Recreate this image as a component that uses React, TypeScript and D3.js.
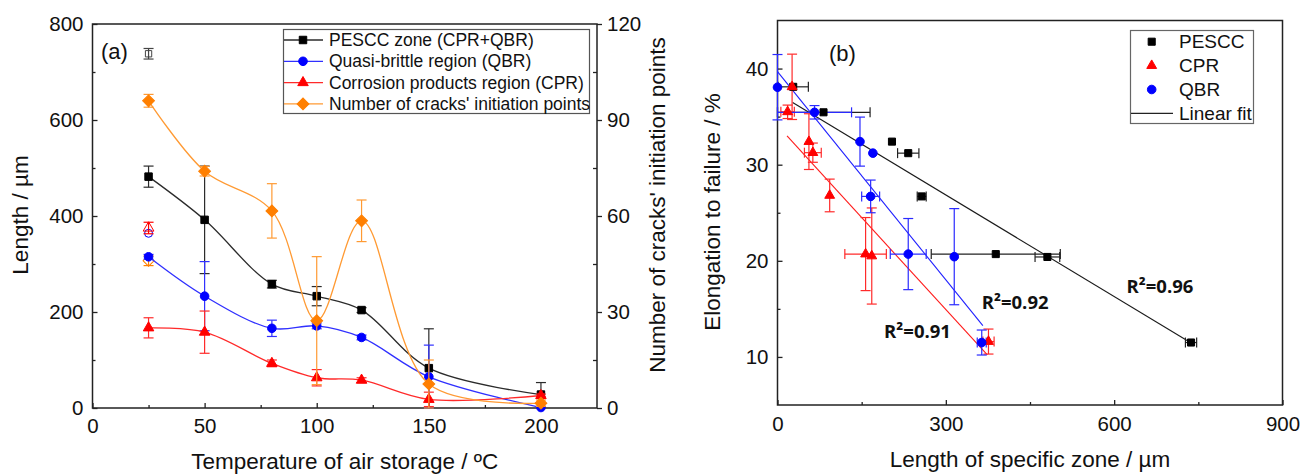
import React, { useEffect, useRef } from 'react';
import * as d3 from 'd3';

// ---- panel (a): lengths and crack initiation points vs storage temperature
const temps = [25, 50, 80, 100, 120, 150, 200];
const pesccLen = [482, 392, 258, 233, 204, 83, 28];
const pesccErr = [22, 112, 8, 20, 5, 82, 25];
const qbrLen = [315, 233, 166, 171, 147, 65, 1];
const qbrErr = [5, 72, 17, 6, 5, 66, 0];
const cprLen = [167, 158, 93, 63, 58, 18, 26];
const cprErr = [21, 44, 7, 17, 5, 15, 3];
const cracks = [96, 74, 61.6, 27.3, 58.5, 7.5, 1.5];
const cracksErr = [2, 1.5, 8.5, 20, 6.5, 7.5, 1];

// open symbols at 25 °C: PESCC, QBR, CPR lengths and crack count
const refTemp = 25;
const refLen = [738, 364, 375];
const refLenErr = [11, 0, 12];
const refCracks = 46;
const refCracksErr = 1.5;

const legendA = ['PESCC zone (CPR+QBR)', 'Quasi-brittle region (QBR)', 'Corrosion products region (CPR)', "Number of cracks' initiation points"];

// ---- panel (b): elongation to failure vs zone length
const pesccX = [28, 82, 204, 233, 257, 389, 481, 737];
const pesccY = [38.1, 35.45, 32.4, 31.2, 26.7, 20.7, 20.4, 11.5];
const pesccXErr = [27, 83, 0, 19, 8, 115, 22, 10];
const cprX = [18, 26, 56, 63, 93, 157, 168, 376];
const cprY = [35.5, 38.1, 32.4, 31.25, 26.8, 20.7, 20.5, 11.6];
const cprXErr = [12, 0, 0, 15, 0, 37, 0, 10];
const cprYErr = [0.7, 3.4, 2.9, 1.0, 1.7, 3.8, 5, 1.3];
const qbrX = [0, 66, 147, 170, 166, 233, 315, 364];
const qbrY = [38.06, 35.45, 32.4, 31.2, 26.7, 20.7, 20.43, 11.5];
const qbrXErr = [0, 66, 0, 0, 16, 32, 0, 8];
const qbrYErr = [3.4, 0.7, 2.55, 0, 1.7, 3.7, 5, 1.3];

// linear fits: PESCC, QBR, CPR
const fitSlope = [-0.03525, -0.0722, -0.0638];
const fitIntercept = [37.43, 39.68, 34.07];
const fitFrom = [27, 0, 17];
const fitTo = [738, 366, 374];
const r2Text = ['R²=0.96', 'R²=0.92', 'R²=0.91'];
const r2X = [622, 364, 190];
const r2Y = [16.7, 15.0, 12.0];

const legendB = ['PESCC', 'CPR', 'QBR', 'Linear fit'];

const FONT = "'Liberation Sans', Arial, Helvetica, sans-serif";
const BLACK = '#000000';
const BLUE = '#0000ff';
const RED = '#ff0000';
const ORANGE = '#ff7f00';

const styleAxis = (g: any) => {
  g.select('.domain').remove();
  g.selectAll('text').style('font-family', FONT).style('font-size', '20.5px').attr('fill', '#111');
  g.selectAll('line').attr('stroke', '#222').attr('stroke-width', 1.3);
};

const sym = (g: any, type: any, size: number, x: number, y: number, fill: string, stroke: string, rot = 0) =>
  g.append('path')
    .attr('d', d3.symbol(type, size)())
    .attr('transform', `translate(${x},${y}) rotate(${rot})`)
    .attr('fill', fill)
    .attr('stroke', stroke)
    .attr('stroke-width', 1);

const vErr = (g: any, x: number, y0: number, y1: number, color: string) => {
  g.append('line').attr('x1', x).attr('x2', x).attr('y1', y0).attr('y2', y1).attr('stroke', color).attr('stroke-width', 1.2);
  [y0, y1].forEach(y => g.append('line').attr('x1', x - 5).attr('x2', x + 5).attr('y1', y).attr('y2', y).attr('stroke', color).attr('stroke-width', 1.2));
};

const hErr = (g: any, y: number, x0: number, x1: number, color: string) => {
  g.append('line').attr('x1', x0).attr('x2', x1).attr('y1', y).attr('y2', y).attr('stroke', color).attr('stroke-width', 1.2);
  [x0, x1].forEach(x => g.append('line').attr('x1', x).attr('x2', x).attr('y1', y - 5).attr('y2', y + 5).attr('stroke', color).attr('stroke-width', 1.2));
};

const drawPanelA = (svg: any) => {
  const L = 92.5, R = 597, T = 24, B = 408;
  const x = d3.scaleLinear().domain([0, 225]).range([L, R]);
  const y = d3.scaleLinear().domain([0, 800]).range([B, T]);
  const yr = d3.scaleLinear().domain([0, 120]).range([B, T]);
  const g = svg.append('g');

  styleAxis(g.append('g').attr('transform', `translate(0,${B})`)
    .call(d3.axisBottom(x).tickValues([0, 50, 100, 150, 200]).tickSize(-5).tickPadding(10)));
  styleAxis(g.append('g').attr('transform', `translate(0,${B})`)
    .call(d3.axisBottom(x).tickValues([25, 75, 125, 175]).tickSize(-3).tickFormat(() => '')));
  styleAxis(g.append('g').attr('transform', `translate(${L},0)`)
    .call(d3.axisLeft(y).tickValues([0, 200, 400, 600, 800]).tickSize(-5).tickPadding(9)));
  styleAxis(g.append('g').attr('transform', `translate(${L},0)`)
    .call(d3.axisLeft(y).tickValues([100, 300, 500, 700]).tickSize(-3).tickFormat(() => '')));
  styleAxis(g.append('g').attr('transform', `translate(${R},0)`)
    .call(d3.axisRight(yr).tickValues([0, 30, 60, 90, 120]).tickSize(5).tickPadding(5)));
  styleAxis(g.append('g').attr('transform', `translate(${R},0)`)
    .call(d3.axisRight(yr).tickValues([15, 45, 75, 105]).tickSize(-4).tickFormat(() => '')));

  g.append('rect').attr('x', L).attr('y', T).attr('width', R - L).attr('height', B - T)
    .attr('fill', 'none').attr('stroke', '#222').attr('stroke-width', 1.5);

  const series = [
    { vals: pesccLen, errs: pesccErr, sc: y, type: d3.symbolSquare, size: 56, color: BLACK, line: '#2b2b2b', rot: 0 },
    { vals: qbrLen, errs: qbrErr, sc: y, type: d3.symbolCircle, size: 58, color: BLUE, line: '#3030ff', rot: 0 },
    { vals: cprLen, errs: cprErr, sc: y, type: d3.symbolTriangle, size: 48, color: RED, line: '#ff2a2a', rot: 0 },
    { vals: cracks, errs: cracksErr, sc: yr, type: d3.symbolSquare, size: 70, color: ORANGE, line: '#ff9a33', rot: 45 },
  ];

  // open reference symbols at 25 °C
  const refColors = ['#444', BLUE, RED];
  const refTypes = [d3.symbolSquare, d3.symbolCircle, d3.symbolTriangle];
  refLen.forEach((v, i) => {
    if (refLenErr[i] > 0) vErr(g, x(refTemp), y(v - refLenErr[i]), y(v + refLenErr[i]), refColors[i]);
    sym(g, refTypes[i], i === 0 ? 40 : 50, x(refTemp), y(v), 'none', refColors[i]);
  });
  vErr(g, x(refTemp), yr(refCracks - refCracksErr), yr(refCracks + refCracksErr), ORANGE);
  sym(g, d3.symbolSquare, 60, x(refTemp), yr(refCracks), 'none', ORANGE, 45);

  const line = d3.line<number>().curve(d3.curveCatmullRom.alpha(0.5));
  series.forEach(s => {
    const pts = temps.map((t, i) => [x(t), s.sc(s.vals[i])] as [number, number]);
    g.append('path').attr('d', line.x(d => d[0]).y(d => d[1])(pts as any)).attr('fill', 'none')
      .attr('stroke', s.line).attr('stroke-width', 1.3);
    temps.forEach((t, i) => {
      if (s.errs[i] > 0.5) vErr(g, x(t), s.sc(Math.max(0, s.vals[i] - s.errs[i])), s.sc(s.vals[i] + s.errs[i]), s.line);
    });
    temps.forEach((t, i) => sym(g, s.type, s.size, x(t), s.sc(s.vals[i]), s.color, s.color, s.rot));
  });

  // legend
  const lg = g.append('g');
  lg.append('rect').attr('x', 283.5).attr('y', 29.5).attr('width', 306).attr('height', 84)
    .attr('fill', '#fff').attr('stroke', '#555').attr('stroke-width', 1.2);
  legendA.forEach((name, i) => {
    const s = series[i];
    const ly = 40 + i * 21.3;
    lg.append('line').attr('x1', 284).attr('x2', 323).attr('y1', ly).attr('y2', ly).attr('stroke', s.line).attr('stroke-width', 1.3);
    sym(lg, s.type, s.size, 303, ly, s.color, s.color, s.rot);
    lg.append('text').attr('x', 329).attr('y', ly).attr('dy', '0.35em').text(name)
      .style('font-family', FONT).style('font-size', '17.5px').attr('fill', '#111');
  });

  g.append('text').attr('x', 101).attr('y', 59).text('(a)')
    .style('font-family', FONT).style('font-size', '22px').attr('fill', '#111');

  g.append('text').attr('x', (L + R) / 2).attr('y', 469).attr('text-anchor', 'middle')
    .text('Temperature of air storage / ºC').style('font-family', FONT).style('font-size', '22.5px').attr('fill', '#111');
  g.append('text').attr('transform', `translate(27.5,215) rotate(-90)`).attr('text-anchor', 'middle')
    .text('Length / µm').style('font-family', FONT).style('font-size', '22.5px').attr('fill', '#111');
  g.append('text').attr('transform', `translate(665,205) rotate(-90)`).attr('text-anchor', 'middle')
    .text("Number of cracks' initiation points").style('font-family', FONT).style('font-size', '22.5px').attr('fill', '#111');
};

const drawPanelB = (svg: any) => {
  const L = 777.5, R = 1282.5, T = 20.5, B = 405;
  const x = d3.scaleLinear().domain([0, 900]).range([L, R]);
  const y = d3.scaleLinear().domain([5, 45]).range([B, T]);
  const g = svg.append('g');

  styleAxis(g.append('g').attr('transform', `translate(0,${B})`)
    .call(d3.axisBottom(x).tickValues([0, 300, 600, 900]).tickSize(-5).tickPadding(11)));
  styleAxis(g.append('g').attr('transform', `translate(0,${B})`)
    .call(d3.axisBottom(x).tickValues([150, 450, 750]).tickSize(-3).tickFormat(() => '')));
  styleAxis(g.append('g').attr('transform', `translate(${L},0)`)
    .call(d3.axisLeft(y).tickValues([10, 20, 30, 40]).tickSize(-5).tickPadding(9)));
  styleAxis(g.append('g').attr('transform', `translate(${L},0)`)
    .call(d3.axisLeft(y).tickValues([15, 25, 35]).tickSize(-3).tickFormat(() => '')));

  g.append('rect').attr('x', L).attr('y', T).attr('width', R - L).attr('height', B - T)
    .attr('fill', 'none').attr('stroke', '#222').attr('stroke-width', 1.5);

  // fit lines
  const fitColors = ['#1a1a1a', '#1f1fff', '#ff1a1a'];
  fitSlope.forEach((m, i) => {
    g.append('line')
      .attr('x1', x(fitFrom[i])).attr('y1', y(fitIntercept[i] + m * fitFrom[i]))
      .attr('x2', x(fitTo[i])).attr('y2', y(fitIntercept[i] + m * fitTo[i]))
      .attr('stroke', fitColors[i]).attr('stroke-width', 1.1);
  });

  const pts = [
    { xs: pesccX, ys: pesccY, xe: pesccXErr, ye: pesccY.map(() => 0), type: d3.symbolSquare, size: 50, color: BLACK, err: '#222' },
    { xs: cprX, ys: cprY, xe: cprXErr, ye: cprYErr, type: d3.symbolTriangle, size: 42, color: RED, err: '#ff2a2a' },
    { xs: qbrX, ys: qbrY, xe: qbrXErr, ye: qbrYErr, type: d3.symbolCircle, size: 58, color: BLUE, err: '#2a2aff' },
  ];
  const order = [0, 1, 2];
  order.forEach(k => {
    const s = pts[k];
    s.xs.forEach((v, i) => {
      if (s.ye[i] > 0) vErr(g, x(v), y(s.ys[i] - s.ye[i]), y(s.ys[i] + s.ye[i]), s.err);
      if (s.xe[i] > 0) hErr(g, y(s.ys[i]), x(Math.max(0, v - s.xe[i])), x(v + s.xe[i]), s.err);
    });
  });
  order.forEach(k => {
    const s = pts[k];
    s.xs.forEach((v, i) => sym(g, s.type, s.size, x(v), y(s.ys[i]), s.color, s.color));
  });

  r2Text.forEach((t, i) => {
    g.append('text').attr('x', x(r2X[i])).attr('y', y(r2Y[i])).text(t)
      .style('font-family', "'Open Sans', 'Noto Sans', sans-serif").style('font-weight', 'bold')
      .style('font-size', '18.5px').attr('fill', '#111');
  });

  // legend
  const lg = g.append('g');
  lg.append('rect').attr('x', 1130.5).attr('y', 30.5).attr('width', 123).attr('height', 93)
    .attr('fill', '#fff').attr('stroke', '#666').attr('stroke-width', 1.2);
  const legTypes = [pts[0], pts[1], pts[2]];
  legendB.forEach((name, i) => {
    const ly = 41.7 + i * 23.9;
    if (i < 3) sym(lg, legTypes[i].type, legTypes[i].size, 1151.7, ly, legTypes[i].color, legTypes[i].color);
    else lg.append('line').attr('x1', 1131).attr('x2', 1173).attr('y1', ly).attr('y2', ly).attr('stroke', '#222').attr('stroke-width', 1.1);
    lg.append('text').attr('x', 1179).attr('y', ly).attr('dy', '0.35em').text(name)
      .style('font-family', FONT).style('font-size', '19px').attr('fill', '#111');
  });

  g.append('text').attr('x', 829).attr('y', 61).text('(b)')
    .style('font-family', FONT).style('font-size', '22px').attr('fill', '#111');

  g.append('text').attr('x', (L + R) / 2).attr('y', 467).attr('text-anchor', 'middle')
    .text('Length of specific zone / µm').style('font-family', FONT).style('font-size', '22.5px').attr('fill', '#111');
  g.append('text').attr('transform', `translate(719.5,212) rotate(-90)`).attr('text-anchor', 'middle')
    .text('Elongation to failure / %').style('font-family', FONT).style('font-size', '22.5px').attr('fill', '#111');
};

const App = () => {
  const ref = useRef<SVGSVGElement>(null);

  useEffect(() => {
    const svg = d3.select(ref.current);
    svg.selectAll('*').remove();
    drawPanelA(svg);
    drawPanelB(svg);
  }, []);

  return (
    <svg ref={ref} width={1312} height={475}
      style={{ position: 'absolute', left: 0, top: 0, background: '#fff', display: 'block' }} />
  );
};

export default App;
